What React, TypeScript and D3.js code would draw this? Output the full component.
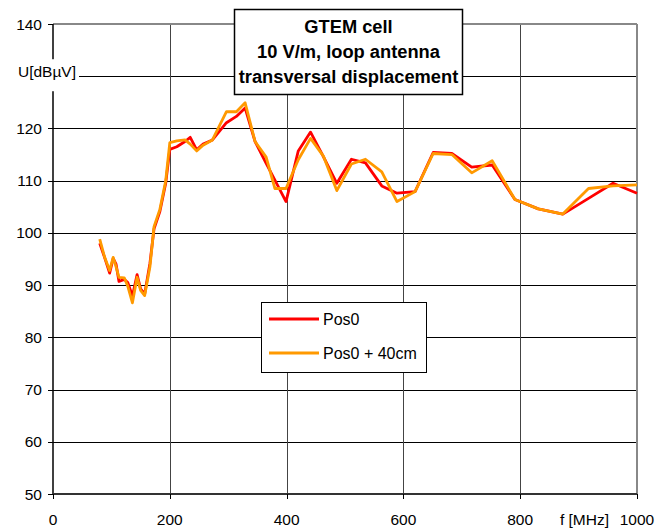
import React, { useEffect, useRef } from "react";
import * as d3 from "d3";

// frequency points (MHz)
const freqs = [80, 88, 97, 103, 108, 113, 122, 128, 136, 144, 150, 157, 166, 173, 183, 193, 200, 212, 226, 235, 246, 257, 273, 297, 314, 329, 346, 365, 380, 399, 420, 441, 463, 486, 511, 535, 563, 589, 620, 651, 683, 717, 752, 791, 831, 873, 917, 959, 1000];

const pos0 = [98.0, 95.4, 92.3, 95.1, 94.0, 90.7, 91.1, 90.5, 87.9, 92.0, 89.3, 88.3, 94.2, 100.8, 104.1, 109.5, 116.0, 116.5, 117.5, 118.3, 115.9, 117.0, 117.8, 121.1, 122.3, 123.9, 117.5, 113.3, 110.1, 106.0, 115.7, 119.3, 114.6, 109.5, 114.1, 113.4, 109.0, 107.6, 107.9, 115.4, 115.2, 112.6, 113.0, 106.4, 104.6, 103.6, 106.6, 109.5, 107.6];

const pos40 = [98.8, 95.5, 92.8, 95.3, 93.5, 91.5, 91.4, 89.8, 86.6, 91.5, 89.0, 88.0, 93.5, 101.2, 104.5, 110.0, 117.3, 117.6, 117.8, 117.0, 115.7, 116.8, 117.8, 123.2, 123.2, 124.9, 117.5, 114.5, 108.5, 108.5, 114.0, 118.1, 114.7, 108.1, 113.2, 114.1, 111.7, 106.0, 107.9, 115.2, 115.0, 111.5, 113.8, 106.4, 104.6, 103.6, 108.5, 109.0, 109.2];

const seriesNames = ["Pos0", "Pos0 + 40cm"];
const seriesColors = ["#ff0000", "#ff9900"];
const xTicks = [0, 200, 400, 600, 800, 1000];
const yTicks = [50, 60, 70, 80, 90, 100, 110, 120, 130, 140];
const titleLines = ["GTEM cell", "10 V/m, loop antenna", "transversal displacement"];

const W = 666, H = 529;
const L = 53, R = 637, T = 24, B = 494;

function App() {
  const ref = useRef<SVGSVGElement>(null);

  useEffect(() => {
    const svg = d3.select(ref.current);
    svg.selectAll("*").remove();

    const x = d3.scaleLinear().domain([0, 1000]).range([L, R]);
    const y = d3.scaleLinear().domain([50, 140]).range([B, T]);
    const crisp = (v: number) => Math.round(v) + 0.5;

    svg.append("rect").attr("width", W).attr("height", H).attr("fill", "#fff");

    // grid
    const grid = svg.append("g").attr("stroke", "#000").attr("stroke-width", 1);
    yTicks.filter(t => t > 50 && t < 140).forEach(t => {
      grid.append("line").attr("x1", L).attr("x2", R).attr("y1", crisp(y(t))).attr("y2", crisp(y(t)));
    });
    xTicks.filter(t => t > 0 && t < 1000).forEach(t => {
      grid.append("line").attr("x1", crisp(x(t))).attr("x2", crisp(x(t))).attr("y1", T).attr("y2", B)
        .attr("stroke", "#444");
    });

    // plot border (top/right) in gray
    svg.append("line").attr("x1", L).attr("x2", R).attr("y1", T).attr("y2", T).attr("stroke", "#888").attr("stroke-width", 2);
    svg.append("line").attr("x1", R).attr("x2", R).attr("y1", T).attr("y2", B).attr("stroke", "#888").attr("stroke-width", 2);

    // axes
    svg.append("line").attr("x1", L).attr("x2", L).attr("y1", T).attr("y2", B).attr("stroke", "#000").attr("stroke-width", 1.5);
    svg.append("line").attr("x1", L).attr("x2", R).attr("y1", B).attr("y2", B).attr("stroke", "#333").attr("stroke-width", 2);

    const ticks = svg.append("g").attr("stroke", "#000").attr("stroke-width", 1);
    yTicks.forEach(t => ticks.append("line").attr("x1", L - 5).attr("x2", L).attr("y1", crisp(y(t))).attr("y2", crisp(y(t))));
    xTicks.forEach(t => ticks.append("line").attr("x1", crisp(x(t))).attr("x2", crisp(x(t))).attr("y1", B).attr("y2", B + 5));

    const font = "Liberation Sans, Arial, sans-serif";
    const fs = 15.5;
    const yLab = svg.append("g").attr("font-family", font).attr("font-size", fs).attr("fill", "#000");
    yTicks.filter(t => t !== 130).forEach(t => {
      yLab.append("text").attr("x", 42).attr("y", y(t) + 5.5).attr("text-anchor", "end").text(t);
    });
    // unit label replacing the 130 tick
    svg.append("rect").attr("x", 8).attr("y", y(130) - 17).attr("width", 71).attr("height", 32).attr("fill", "#fff");
    svg.append("text").attr("x", 76).attr("y", y(130) + 1).attr("text-anchor", "end")
      .attr("font-family", font).attr("font-size", fs).text("U[dBµV]");

    const xLab = svg.append("g").attr("font-family", font).attr("font-size", fs).attr("fill", "#000");
    xTicks.forEach(t => {
      xLab.append("text").attr("x", x(t)).attr("y", 525).attr("text-anchor", "middle").text(t);
    });
    xLab.append("text").attr("x", 609).attr("y", 525).attr("text-anchor", "end").text("f [MHz]");

    // series
    const line = d3.line<number>().x((_, i) => x(freqs[i])).y(d => y(d));
    [pos0, pos40].forEach((s, k) => {
      svg.append("path").datum(s).attr("d", line).attr("fill", "none")
        .attr("stroke", seriesColors[k]).attr("stroke-width", 2.8).attr("stroke-linejoin", "round");
    });

    // title box
    const tb = svg.append("g");
    tb.append("rect").attr("x", 234.5).attr("y", 9.5).attr("width", 228).attr("height", 85)
      .attr("fill", "#fff").attr("stroke", "#000").attr("stroke-width", 1.5);
    titleLines.forEach((s, i) => {
      tb.append("text").attr("x", 348.5).attr("y", 32.5 + i * 25).attr("text-anchor", "middle")
        .attr("font-family", font).attr("font-weight", "bold").attr("font-size", 18.3).text(s);
    });

    // legend
    const lg = svg.append("g");
    lg.append("rect").attr("x", 261.5).attr("y", 302.5).attr("width", 165).attr("height", 70)
      .attr("fill", "#fff").attr("stroke", "#000").attr("stroke-width", 1);
    seriesNames.forEach((n, i) => {
      const yy = 319 + i * 34;
      lg.append("line").attr("x1", 269).attr("x2", 319).attr("y1", yy).attr("y2", yy)
        .attr("stroke", seriesColors[i]).attr("stroke-width", 2.8);
      lg.append("text").attr("x", 323).attr("y", yy + 5.5).attr("font-family", font).attr("font-size", 16).text(n);
    });
  }, []);

  return (
    <svg ref={ref} width={W} height={H} style={{ position: "absolute", left: 0, top: 0 }} />
  );
}

export default App;
